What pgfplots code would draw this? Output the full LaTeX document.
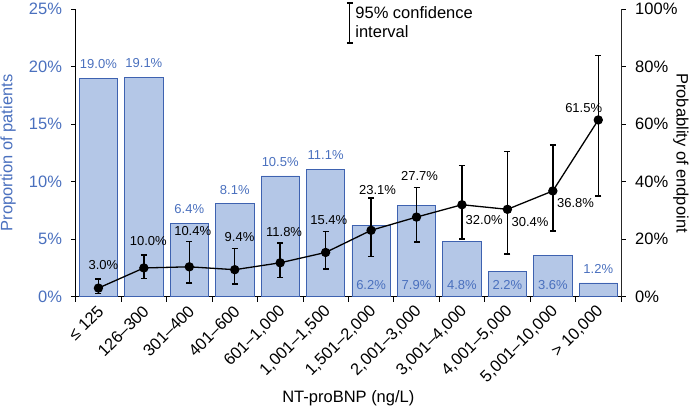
\documentclass[border=0pt]{standalone}
\usepackage{pgfplots}
\pgfplotsset{compat=1.18}
\usepackage{pgfplotstable}
\usepackage{fontspec}
\setmainfont{Liberation Sans}
\definecolor{barfill}{RGB}{180,199,231}
\definecolor{baredge}{RGB}{62,98,176}
\definecolor{bluetxt}{RGB}{74,112,190}
\newcommand\axfont{\fontsize{16.5}{19}\selectfont}
\newcommand\labfont{\fontsize{13}{15}\selectfont}

\pgfplotstableread{
x prop
0 19.0
1 19.1
2 6.4
3 8.1
4 10.5
5 11.1
6 6.2
7 7.9
8 4.8
9 2.2
10 3.6
11 1.2
}\bars

\pgfplotstableread{
x prop
0 19.0
1 19.1
2 6.4
3 8.1
4 10.5
5 11.1
11 1.2
}\abovelab

\pgfplotstableread{
x base lab
6 0 6.2
7 0 7.9
8 0 4.8
9 0 2.2
10 0 3.6
}\insidelab

\pgfplotstableread{
x prob ep em dx dy
0 3.0 3.1 1.8 5.0 22.7
1 10.0 4.5 3.7 4.4 27.0
2 10.4 8.8 5.6 3.4 35.3
3 9.4 7.3 4.9 4.8 32.3
4 11.8 6.9 5.2 3.9 30.7
5 15.4 7.2 5.7 3.1 32.3
6 23.1 11.2 9.1 6.5 40.7
7 27.7 10.3 8.7 3.0 41.0
8 32.0 13.6 11.9 22.2 -15.0
9 30.4 20.2 15.6 22.7 -13.0
10 36.8 16.0 13.9 22.7 -11.7
11 61.5 22.5 26.4 -14.6 12.0
}\linedata

\pgfplotsset{
  common/.style={
    width=545.3pt, height=287.4pt, scale only axis,
    xmin=-0.5, xmax=11.5,
    tick align=outside,
    major tick length=4.7pt, minor tick length=5pt,
    tick label style={font=\axfont},
    label style={font=\axfont},
    /pgf/number format/assume math mode=true,
    clip=false,
  }
}

\begin{document}
\begin{tikzpicture}
\begin{axis}[common, name=ax,
  ymin=0, ymax=25,
  axis x line*=bottom, axis y line*=left,
  axis line style={black, line width=0.8pt},
  ytick={0,5,10,15,20,25},
  yticklabel={\pgfmathprintnumber{\tick}\%},
  yticklabel style={text=bluetxt, xshift=-5.5pt},
  ytick style={black, line width=0.8pt},
  xtick={0,...,11},
  xticklabels={≤ 125,126–300,301–400,401–600,{601–1,000},{1,001–1,500},{1,501–2,000},{2,001–3,000},{3,001–4,000},{4,001–5,000},{5,001–10,000},{> 10,000}},
  xticklabel style={rotate=45, anchor=east, yshift=-6.5pt, xshift=0pt},
  major x tick style={draw=none},
  minor xtick={-0.5,0.5,...,11.5},
  minor x tick style={black, line width=0.8pt},
  ylabel={Proportion of patients},
  ylabel style={text=bluetxt, at={(axis description cs:-0.124,0.5)}, anchor=center},
  xlabel={NT-proBNP (ng/L)},
  xlabel style={at={(axis description cs:0.5,-0.352)}, anchor=center},
]
\addplot[ybar, bar width=0.843, fill=barfill, draw=baredge, line width=0.8pt] table[x=x, y=prop] {\bars};
\addplot[draw=none, mark=none,
  nodes near coords={\pgfmathprintnumber[fixed,fixed zerofill,precision=1]{\pgfplotspointmeta}\%},
  every node near coord/.append style={anchor=center, yshift=13.8pt, font=\labfont, text=bluetxt}]
  table[x=x, y=prop] {\abovelab};
\addplot[draw=none, mark=none, point meta=explicit,
  nodes near coords={\pgfmathprintnumber[fixed,fixed zerofill,precision=1]{\pgfplotspointmeta}\%},
  every node near coord/.append style={anchor=center, yshift=11.7pt, font=\labfont, text=bluetxt}]
  table[x=x, y=base, meta=lab] {\insidelab};
\end{axis}

\begin{axis}[common,
  ymin=0, ymax=100,
  axis x line=none, axis y line*=right,
  axis line style={black!85, line width=0.8pt},
  ytick={0,20,40,60,80,100},
  yticklabel={\pgfmathprintnumber{\tick}\%},
  yticklabel style={xshift=6pt},
  ytick style={black, line width=0.8pt},
  ylabel={Probablity of endpoint},
  ylabel style={at={(axis description cs:1.11,0.5)}, anchor=center, rotate=180},
  legend style={draw=none, fill=none, at={(axis description cs:0.49,1.032)}, anchor=north west, font=\axfont, cells={align=left}},
  legend cell align=left,
]
\addlegendimage{legend image code/.code={
  \draw[black, line width=1.3pt] (0.3cm,-20pt)--(0.3cm,20pt)
    (0.3cm-3pt,-20pt)--(0.3cm+3pt,-20pt) (0.3cm-3pt,20pt)--(0.3cm+3pt,20pt);}}
\addlegendentry{95\% confidence\\interval}
\addplot[black, line width=1.3pt, mark=*, mark size=4pt,
  error bars/.cd, y dir=both, y explicit,
  error bar style={line width=1.5pt},
  error mark options={rotate=90, mark size=3pt, line width=1.5pt}]
  table[x=x, y=prob, y error plus=ep, y error minus=em] {\linedata};
\addplot[draw=none, mark=none,
  nodes near coords={\pgfmathprintnumber[fixed,fixed zerofill,precision=1]{\pgfplotspointmeta}\%},
  visualization depends on={\thisrow{dx} \as \dx},
  visualization depends on={\thisrow{dy} \as \dy},
  every node near coord/.append style={anchor=center, xshift=\dx pt, yshift=\dy pt, font=\labfont, text=black}]
  table[x=x, y=prob] {\linedata};
\end{axis}
\pgfresetboundingbox
\path ([xshift=-75.7pt, yshift=-118.3pt]ax.south west) rectangle ([xshift=69pt, yshift=9.3pt]ax.north east);
\end{tikzpicture}
\end{document}
